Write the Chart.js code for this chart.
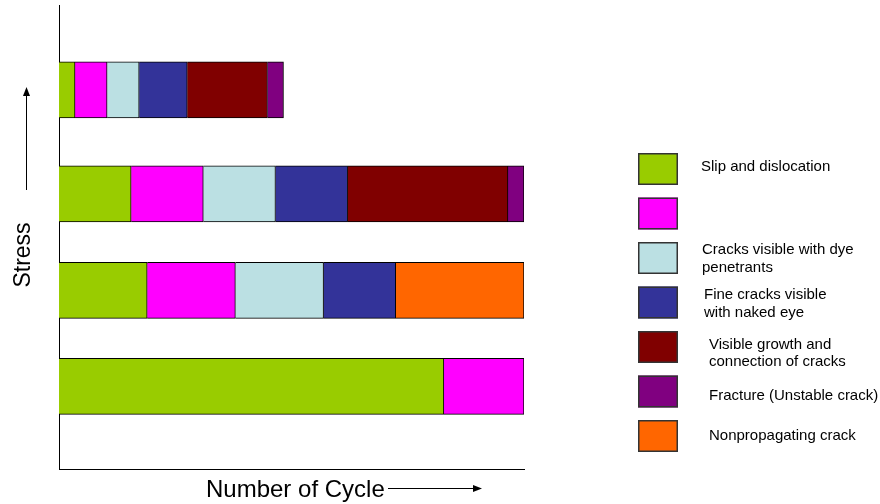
<!DOCTYPE html>
<html>
<head>
<meta charset="utf-8">
<script src="https://cdn.jsdelivr.net/npm/chart.js@4/dist/chart.umd.min.js"></script>
<style>
  html, body { margin: 0; padding: 0; background: #fff; }
  #wrap { width: 880px; height: 504px; }
</style>
</head>
<body>
<div id="wrap"><canvas id="c" width="880" height="504"></canvas></div>
<script>
// Stress level of each bar (top bar = highest stress)
const stressLevels = [81.7, 59.3, 38.5, 17.8];

// Cycles spent in each damage stage, one entry per stress level
const slipAndDislocation = [2, 9, 11, 48];
const microCracks        = [4, 9, 11, 10];
const dyeCracks          = [4, 9, 11, null];
const fineCracks         = [6, 9, 9, null];
const crackGrowth        = [10, 20, null, null];
const fracture           = [2, 2, null, null];
const nonPropagating     = [null, null, 16, null];

// Legend text, split into lines
const stageLabels = [
  ['Slip and dislocation'],
  [],
  ['Cracks visible with dye', 'penetrants'],
  ['Fine cracks visible', 'with naked eye'],
  ['Visible growth and', 'connection of cracks'],
  ['Fracture (Unstable crack)'],
  ['Nonpropagating crack']
];
const stageColors = ['#99CC00', '#FF00FF', '#BBE0E3', '#333399', '#800000', '#800080', '#FF6600'];
const stageSeries = [slipAndDislocation, microCracks, dyeCracks, fineCracks, crackGrowth, fracture, nonPropagating];

const xTitle = 'Number of Cycle';
const yTitle = 'Stress';
const cycleMax = 58;
const stressMax = 100;

const FONT = '"Liberation Sans", Arial, Helvetica, sans-serif';

const datasets = stageSeries.map((values, i) => ({
  label: stageLabels[i].join(' '),
  data: values.map((v, k) => ({ x: v, y: stressLevels[k] })),
  backgroundColor: stageColors[i],
  borderColor: '#000',
  borderWidth: 1,
  borderSkipped: 'start',
  barThickness: 56
}));

// Boxes and multi-line labels for the stages, drawn at the right side
const stageLegend = {
  id: 'stageLegend',
  afterDraw(chart, args, o) {
    const ctx = chart.ctx;
    ctx.save();
    chart.data.datasets.forEach((ds, i) => {
      const top = o.top + i * o.step;
      ctx.fillStyle = ds.backgroundColor;
      ctx.fillRect(o.x, top, o.boxW, o.boxH);
      ctx.strokeStyle = '#333';
      ctx.lineWidth = 1.5;
      ctx.strokeRect(o.x + 0.75, top + 0.75, o.boxW - 1.5, o.boxH - 1.5);
      const lines = stageLabels[i];
      ctx.fillStyle = '#000';
      ctx.font = o.fontSize + 'px ' + FONT;
      ctx.textBaseline = 'middle';
      ctx.textAlign = 'left';
      const cy = top + o.boxH / 2 + o.dy[i];
      lines.forEach((t, k) => {
        ctx.fillText(t, o.textX[i], cy + (k - (lines.length - 1) / 2) * o.lineH);
      });
    });
    ctx.restore();
  }
};

// Axis captions with their arrows
const axisCaptions = {
  id: 'axisCaptions',
  afterDraw(chart) {
    const { ctx, chartArea: a } = chart;
    ctx.save();
    ctx.fillStyle = '#000';
    ctx.strokeStyle = '#000';
    ctx.lineWidth = 1;

    // vertical caption
    ctx.save();
    ctx.translate(a.left - 35, 255);
    ctx.rotate(-Math.PI / 2);
    ctx.font = '23px ' + FONT;
    ctx.textAlign = 'center';
    ctx.textBaseline = 'middle';
    ctx.fillText(yTitle, 0, 0);
    ctx.restore();

    // upward arrow
    const ax = a.left - 32.5;
    ctx.beginPath();
    ctx.moveTo(ax, 190);
    ctx.lineTo(ax, 95);
    ctx.stroke();
    ctx.beginPath();
    ctx.moveTo(ax, 87);
    ctx.lineTo(ax - 3.5, 96);
    ctx.lineTo(ax + 3.5, 96);
    ctx.closePath();
    ctx.fill();

    // horizontal caption
    ctx.font = '24px ' + FONT;
    ctx.textAlign = 'left';
    ctx.textBaseline = 'alphabetic';
    ctx.fillText(xTitle, 206, a.bottom + 28);

    // rightward arrow
    const ay = a.bottom + 19.5;
    ctx.beginPath();
    ctx.moveTo(388, ay);
    ctx.lineTo(474, ay);
    ctx.stroke();
    ctx.beginPath();
    ctx.moveTo(482, ay);
    ctx.lineTo(473, ay - 3.5);
    ctx.lineTo(473, ay + 3.5);
    ctx.closePath();
    ctx.fill();
    ctx.restore();
  }
};

new Chart(document.getElementById('c'), {
  type: 'bar',
  data: { datasets },
  plugins: [stageLegend, axisCaptions],
  options: {
    indexAxis: 'y',
    responsive: false,
    devicePixelRatio: 1,
    animation: false,
    layout: { padding: { left: 59, top: 5, right: 356, bottom: 35 } },
    scales: {
      x: {
        type: 'linear',
        stacked: true,
        offset: false,
        min: 0,
        max: cycleMax,
        z: 1,
        ticks: { display: false },
        grid: { display: false, drawTicks: false, tickLength: 0 },
        border: { display: true, color: '#000', width: 1 }
      },
      y: {
        type: 'linear',
        stacked: true,
        offset: false,
        min: 0,
        max: stressMax,
        z: 1,
        ticks: { display: false },
        grid: { display: false, drawTicks: false, tickLength: 0 },
        border: { display: true, color: '#000', width: 1 }
      }
    },
    plugins: {
      legend: { display: false },
      tooltip: { enabled: false },
      stageLegend: {
        x: 638, top: 153, step: 44.5, boxW: 40, boxH: 32,
        fontSize: 15, lineH: 17.5,
        textX: [701, 701, 702, 704, 709, 709, 709],
        dy: [-2, 0, 1, 1.5, 6.5, 4, 0]
      }
    }
  }
});
</script>
</body>
</html>
